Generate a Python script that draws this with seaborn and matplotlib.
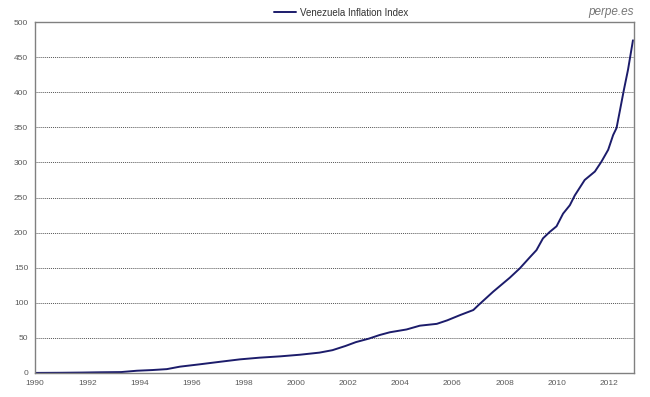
import matplotlib
matplotlib.use('Agg')
import matplotlib.pyplot as plt
import seaborn as sns
import pandas as pd

# 값은 그림에서 읽은 근사치
years = [1990.0, 1991.0, 1991.8, 1992.5, 1993.3, 1993.9, 1994.5, 1995.05, 1995.55,
         1996.3, 1997.1, 1997.85, 1998.6, 1999.4, 2000.15, 2000.9, 2001.4, 2001.9,
         2002.3, 2002.8, 2003.2, 2003.6, 2004.24, 2004.75, 2005.4, 2005.8, 2006.3,
         2006.8, 2007.0, 2007.56, 2008.2, 2008.58, 2008.97, 2009.22, 2009.47, 2009.73,
         2009.99, 2010.24, 2010.5, 2010.69, 2011.07, 2011.46, 2011.71, 2011.97,
         2012.16, 2012.29, 2012.41, 2012.57, 2012.73, 2012.92]
index_values = [0.1, 0.3, 0.6, 1.0, 1.3, 3.2, 4.2, 5.5, 9.0,
                12.3, 16.0, 19.4, 21.8, 23.7, 26.0, 29.0, 32.5, 38.5,
                44, 49, 54, 58, 62, 67.4, 70, 75, 82.6,
                89.7, 96.8, 115.8, 135.8, 149, 165, 175, 191.8, 201,
                209, 227, 239, 253, 275, 287, 301, 318,
                339, 349, 372, 403, 432, 474]
x_ticks = list(range(1990, 2013, 2))
y_ticks = list(range(0, 501, 50))

df = pd.DataFrame({'year': years, 'value': index_values})

sns.set_style('white')
plt.rcParams['font.family'] = ['Liberation Sans', 'DejaVu Sans']

fig = plt.figure(figsize=(6.5, 3.97), dpi=100)
ax = fig.add_axes([0.054, 0.0605, 0.921, 0.884])

sns.lineplot(data=df, x='year', y='value', color='#1c1c6b', linewidth=1.4,
             ax=ax, label='Venezuela Inflation Index', legend=False)

ax.set_xlim(1990, 2012.95)
ax.set_ylim(0, 500)
ax.set_xticks(x_ticks)
ax.set_yticks(y_ticks)
ax.tick_params(axis='both', labelsize=6, colors='#5a5a5a', length=0, pad=5)
ax.set_xlabel('')
ax.set_ylabel('')

# 점선 격자
for v in y_ticks[1:-1]:
    ax.axhline(v, color='#555555', linestyle=(0, (1, 1)), linewidth=0.7, zorder=0)

for s in ax.spines.values():
    s.set_color('#808080')
    s.set_linewidth(1.0)

handles, labels = ax.get_legend_handles_labels()
fig.legend(handles, labels, loc='center', bbox_to_anchor=(0.525, 0.968),
           frameon=False, fontsize=7, handlelength=2.2, handletextpad=0.4,
           labelcolor='#333333')

fig.text(0.975, 0.97, 'perpe.es', ha='right', va='center', fontsize=8.5,
         style='italic', color='#777777')

plt.savefig('out.png', dpi=100)
plt.close()
